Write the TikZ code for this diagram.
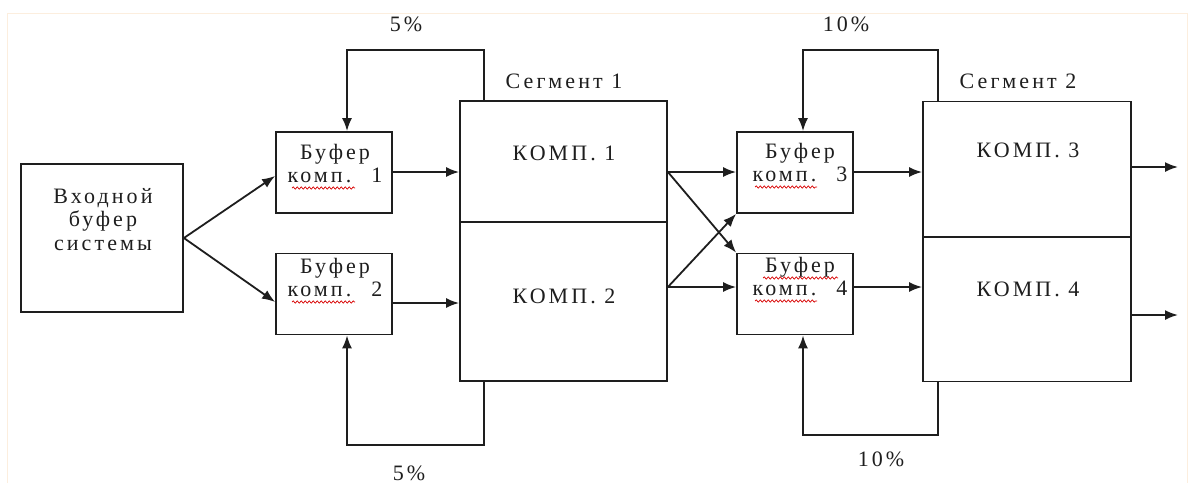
\documentclass[tikz,border=0pt]{standalone}
\usepackage{fontspec}
\setmainfont{Liberation Serif}[LetterSpace=14]
\usetikzlibrary{arrows.meta,decorations.pathmorphing}

\definecolor{framecol}{RGB}{252,238,222}
\definecolor{ink}{RGB}{30,30,30}

\tikzset{
  box/.style={draw=ink, line width=1.8pt, rectangle, inner sep=0pt},
  lbl/.style={anchor=base, inner sep=0pt, align=center, text=ink,
    font=\fontsize{22}{26}\selectfont},
  arr/.style={draw=ink, line width=1.8pt, -{Latex[length=13pt,width=10pt]}},
  wire/.style={draw=ink, line width=1.8pt},
  squiggle/.style={red!85!black, line width=0.7pt, decorate,
    decoration={snake, amplitude=1.1pt, segment length=4pt}},
}

\begin{document}
\begin{tikzpicture}[x=1pt,y=-1pt]
\useasboundingbox (0,0) rectangle (1190,483);
\fill[white] (0,0) rectangle (1190,483);
\draw[framecol, line width=1pt] (7,483) -- (7,13) -- (1187,13) -- (1187,483);

% boxes
\node[box, minimum width=162pt, minimum height=148pt] (inb) at (102,238) {};
\node[box, minimum width=116pt, minimum height=81pt] (b1) at (334,172.5) {};
\node[box, minimum width=116pt, minimum height=81pt] (b2) at (334,294) {};
\node[box, minimum width=207pt, minimum height=280pt] (s1) at (563.5,241) {};
\node[box, minimum width=116pt, minimum height=81pt] (b3) at (795,172.5) {};
\node[box, minimum width=116pt, minimum height=81pt] (b4) at (795,294) {};
\node[box, minimum width=208pt, minimum height=280pt] (s2) at (1027,241.5) {};

% dividers of the segments
\draw[wire] (s1.west |- 0,222) -- (s1.east |- 0,222);
\draw[wire] (s2.west |- 0,237) -- (s2.east |- 0,237);

% texts
\node[lbl] (tin1) at (103,203) {Входной};
\node[lbl] (tin2) at (103,226) {буфер};
\node[lbl] (tin3) at (103,250) {системы};
\node[lbl] (tb1a) at (335,159) {Буфер};
\node[lbl] (tb1b) at (335,182) {комп.~ 1};
\node[lbl] (tb2a) at (335,273) {Буфер};
\node[lbl] (tb2b) at (335,296) {комп.~ 2};
\node[lbl] (tb3a) at (800,158) {Буфер};
\node[lbl] (tb3b) at (800,181) {комп.~ 3};
\node[lbl] (tb4a) at (800,272) {Буфер};
\node[lbl] (tb4b) at (800,295) {комп.~ 4};
\node[lbl] (tk1) at (564,160) {КОМП. 1};
\node[lbl] (tk2) at (564,303) {КОМП. 2};
\node[lbl] (tk3) at (1028,157) {КОМП. 3};
\node[lbl] (tk4) at (1028,296) {КОМП. 4};
\node[lbl] (seg1) at (564,88) {Сегмент 1};
\node[lbl] (seg2) at (1018,88) {Сегмент 2};
\node[lbl] (p1) at (406,31) {5\%};
\node[lbl] (p2) at (409,480) {5\%};
\node[lbl] (p3) at (846,31) {10\%};
\node[lbl] (p4) at (881,466) {10\%};

% spell-check underlines
\draw[squiggle] (292,188) -- (355,188);
\draw[squiggle] (292,302) -- (355,302);
\draw[squiggle] (755,187) -- (817,187);
\draw[squiggle] (763,278) -- (838,278);
\draw[squiggle] (755,301) -- (817,301);

% input distribution
\draw[arr] (inb.east) -- (b1.west |- 0,176);
\draw[arr] (inb.east) -- (b2.west |- 0,302);

% buffers to segment 1
\draw[arr] (b1.east |- 0,172) -- (s1.west |- 0,172);
\draw[arr] (b2.east |- 0,303) -- (s1.west |- 0,303);

% segment 1 to buffers 3,4
\coordinate (o1) at (s1.east |- 0,172);
\coordinate (o2) at (s1.east |- 0,287);
\draw[arr] (o1) -- (b3.west |- 0,172);
\draw[arr] (o1) -- (b4.north west);
\draw[arr] (o2) -- (b4.west |- 0,287);
\draw[arr] (o2) -- (b3.south west);

% buffers to segment 2
\draw[arr] (b3.east |- 0,172) -- (s2.west |- 0,172);
\draw[arr] (b4.east |- 0,287) -- (s2.west |- 0,287);

% outputs
\coordinate (out1) at (1178,167);
\coordinate (out2) at (1178,315);
\draw[arr] (s2.east |- out1) -- (out1);
\draw[arr] (s2.east |- out2) -- (out2);

% feedback loops
\draw[arr] (s1.north -| 484,0) -- (484,50) -- (347,50) -- (b1.north -| 347,0);
\draw[arr] (s1.south -| 484,0) -- (484,445) -- (347,445) -- (b2.south -| 347,0);
\draw[arr] (s2.north -| 938,0) -- (938,50) -- (803,50) -- (b3.north -| 803,0);
\draw[arr] (s2.south -| 938,0) -- (938,435) -- (803,435) -- (b4.south -| 803,0);
\end{tikzpicture}
\end{document}
